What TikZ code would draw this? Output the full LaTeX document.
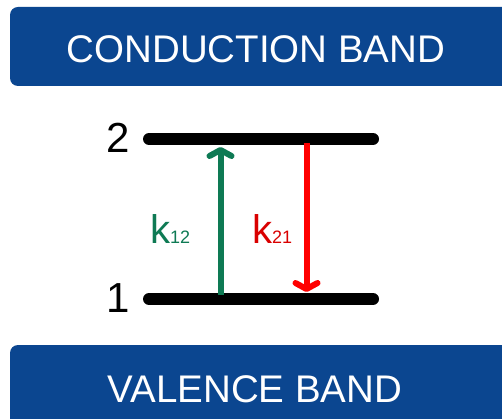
\documentclass[tikz,border=0pt]{standalone}
\usepackage{fontspec}
\setmainfont{Liberation Sans}
\usetikzlibrary{arrows.meta}
\definecolor{bandblue}{HTML}{0B4690}
\definecolor{kgreen}{HTML}{0E7A54}
\definecolor{kred}{HTML}{FF0000}
\tikzset{
  band/.style={fill=bandblue, rounded corners=8pt},
  bandtext/.style={text=white, anchor=base, inner sep=0pt, font=\fontsize{38.5}{42}\selectfont},
  level/.style={line width=12pt, line cap=round, black},
  levnum/.style={inner sep=0pt, font=\fontsize{42}{44}\selectfont},
  rate/.style={line width=6pt, -{Straight Barb[length=6pt,width=22pt,round]}},
  ratelabel/.style={anchor=base west, inner sep=0pt, font=\fontsize{40}{40}\selectfont}
}
\newcommand{\subsz}[1]{{\fontsize{18}{18}\selectfont #1}}
\begin{document}
\begin{tikzpicture}[x=1pt,y=-1pt]
  \useasboundingbox (0,0) rectangle (502,419);
  \begin{scope}
    \clip (0,0) rectangle (502,419);
    \fill[band] (10,7) rectangle (520,86);
    \fill[band] (10,345) rectangle (520,440);
  \end{scope}
  \node[bandtext] (cb) at (256,63) {CONDUCTION BAND};
  \node[bandtext] (vb) at (255,402) {VALENCE BAND};
  \coordinate (l2a) at (149,139);
  \coordinate (l2b) at (373,139);
  \coordinate (l1a) at (149,299);
  \coordinate (l1b) at (373,299);
  \draw[level] (l2a) -- (l2b);
  \draw[level] (l1a) -- (l1b);
  \node[levnum] (n2) at (118,138) {2};
  \node[levnum] (n1) at (118,298) {1};
  \coordinate (gs) at (220.5,295);
  \coordinate (ge) at (220.5,147);
  \coordinate (rs) at (306.5,143);
  \coordinate (re) at (306.5,292);
  \draw[rate, kgreen] (gs) -- (ge);
  \draw[rate, kred] (rs) -- (re);
  \node[ratelabel, text=kgreen] (k12) at (150,243) {k\subsz{12}};
  \node[ratelabel, text=kred!85!black] (k21) at (252,243) {k\subsz{21}};
\end{tikzpicture}
\end{document}
